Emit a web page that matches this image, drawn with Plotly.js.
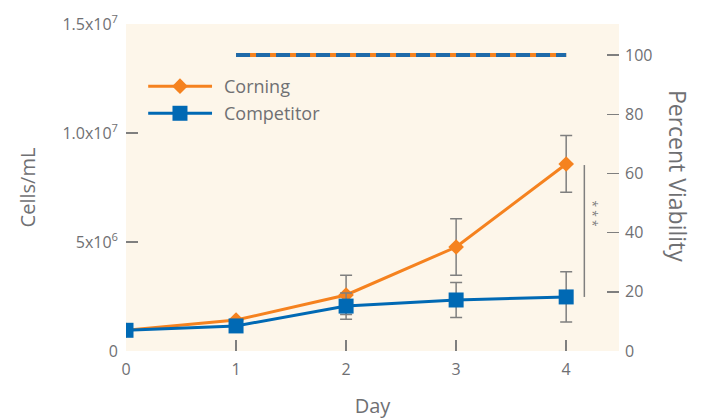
<!DOCTYPE html>
<html>
<head>
<meta charset="utf-8">
<script src="https://cdn.plot.ly/plotly-3.0.1.min.js"></script>
<style>html,body{margin:0;padding:0;background:#fff;}#chart{width:706px;height:419px;}</style>
</head>
<body>
<div id="chart"></div>
<script>
// ---- data ----
var days = [0, 1, 2, 3, 4];
var corningCells = [0.95e6, 1.42e6, 2.57e6, 4.77e6, 8.58e6];
var corningErr = [0, 0, 0.9e6, 1.3e6, 1.3e6];
var competitorCells = [0.95e6, 1.15e6, 2.06e6, 2.34e6, 2.48e6];
var competitorErr = [0, 0, 0.6e6, 0.8e6, 1.15e6];
var viabilityDays = [1, 2, 3, 4];
var corningViability = [100, 100, 100, 100];
var competitorViability = [100, 100, 100, 100];
var leftTickVals = [0, 5e6, 1e7, 1.5e7];
var leftTickText = ['0', '5x10<sup>6</sup>', '1.0x10<sup>7</sup>', '1.5x10<sup>7</sup>'];
var rightTickVals = [0, 20, 40, 60, 80, 100];
var seriesNames = ['Corning', 'Competitor'];

var ORANGE = '#f5821f';
var BLUE = '#0069b4';
var GRAY = '#6f7073';
var ERR = '#7f7f7f';
var FONT = 'Open Sans';

var traces = [
  {x: viabilityDays, y: corningViability, xaxis: 'x', yaxis: 'y2', mode: 'lines',
   line: {color: ORANGE, width: 4}, showlegend: false, hoverinfo: 'skip'},
  {x: viabilityDays, y: competitorViability, xaxis: 'x', yaxis: 'y2', mode: 'lines',
   line: {color: '#1f6aa9', width: 4, dash: '14px,6px'}, showlegend: false, hoverinfo: 'skip'},
  {x: days, y: corningCells, mode: 'lines+markers', name: seriesNames[0],
   line: {color: ORANGE, width: 3},
   marker: {symbol: 'diamond', size: 12, color: ORANGE},
   error_y: {type: 'data', array: corningErr, color: ERR, thickness: 1.5, width: 6},
   showlegend: false},
  {x: days, y: competitorCells, mode: 'lines+markers', name: seriesNames[1],
   line: {color: BLUE, width: 3},
   marker: {symbol: 'square', size: 15, color: BLUE},
   error_y: {type: 'data', array: competitorErr, color: ERR, thickness: 1.5, width: 6},
   showlegend: false},
  // custom legend samples on a hidden helper axis
  {x: [0.045, 0.1745], y: [0.81, 0.81], xaxis: 'x3', yaxis: 'y3', mode: 'lines',
   line: {color: ORANGE, width: 3}, showlegend: false, hoverinfo: 'skip'},
  {x: [0.1095], y: [0.81], xaxis: 'x3', yaxis: 'y3', mode: 'markers',
   marker: {symbol: 'diamond', size: 12, color: ORANGE}, showlegend: false, hoverinfo: 'skip'},
  {x: [0.045, 0.1745], y: [0.727, 0.727], xaxis: 'x3', yaxis: 'y3', mode: 'lines',
   line: {color: BLUE, width: 3}, showlegend: false, hoverinfo: 'skip'},
  {x: [0.1095], y: [0.727], xaxis: 'x3', yaxis: 'y3', mode: 'markers',
   marker: {symbol: 'square', size: 15, color: BLUE}, showlegend: false, hoverinfo: 'skip'}
];

var lastDay = days[days.length - 1];
var layout = {
  width: 706, height: 419,
  margin: {l: 126, r: 87, t: 24, b: 68, pad: 0},
  paper_bgcolor: '#ffffff',
  plot_bgcolor: '#fdf6ea',
  font: {family: FONT, color: GRAY, size: 16},
  showlegend: false,
  xaxis: {
    range: [0, 4.48], tickvals: days, ticktext: days.map(String),
    ticks: 'inside', ticklen: 11, tickwidth: 1.5, tickcolor: ERR,
    showgrid: false, zeroline: false, showline: false,
    tickfont: {size: 16, color: GRAY}, ticklabelstandoff: 7,
    title: {text: 'Day', font: {size: 20, color: GRAY}, standoff: 22}
  },
  yaxis: {
    range: [0, 1.5e7], tickvals: leftTickVals, ticktext: leftTickText,
    ticks: 'inside', ticklen: 12, tickwidth: 1.5, tickcolor: ERR,
    showgrid: false, zeroline: false, showline: false,
    tickfont: {size: 16, color: GRAY}, ticklabelstandoff: 7,
    title: {text: 'Cells/mL', font: {size: 20, color: GRAY}, standoff: 21}
  },
  yaxis2: {
    overlaying: 'y', side: 'right', range: [0, 110.5], tickvals: rightTickVals,
    ticks: 'inside', ticklen: 12, tickwidth: 1.5, tickcolor: ERR,
    showgrid: false, zeroline: false, showline: false,
    tickfont: {size: 16, color: GRAY}, ticklabelstandoff: 5
  },
  xaxis3: {overlaying: 'x', range: [0, 1], visible: false, fixedrange: true},
  yaxis3: {overlaying: 'y', range: [0, 1], visible: false, fixedrange: true, anchor: 'x3'},
  shapes: [
    {type: 'line', xref: 'x', yref: 'y', x0: lastDay + 0.165, x1: lastDay + 0.165,
     y0: corningCells[4] - 0.05e6, y1: competitorCells[4], line: {color: ERR, width: 1.5}}
  ],
  annotations: [
    {xref: 'x3', yref: 'y3', x: 0.195, y: 0.81, xanchor: 'left', yanchor: 'middle',
     text: seriesNames[0], showarrow: false, font: {size: 18, color: GRAY}},
    {xref: 'x3', yref: 'y3', x: 0.195, y: 0.727, xanchor: 'left', yanchor: 'middle',
     text: seriesNames[1], showarrow: false, font: {size: 18, color: GRAY}},
    {xref: 'x', yref: 'y', x: lastDay + 0.235, y: 6.3e6, text: '* * *', textangle: 90,
     showarrow: false, font: {size: 12, color: ERR}},
    {xref: 'paper', yref: 'paper', x: 1.12, y: 0.535, xanchor: 'center', yanchor: 'middle',
     text: 'Percent Viability', textangle: 90, showarrow: false,
     font: {size: 23, color: GRAY}}
  ]
};

Plotly.newPlot('chart', traces, layout, {displayModeBar: false, staticPlot: true});
</script>
</body>
</html>
